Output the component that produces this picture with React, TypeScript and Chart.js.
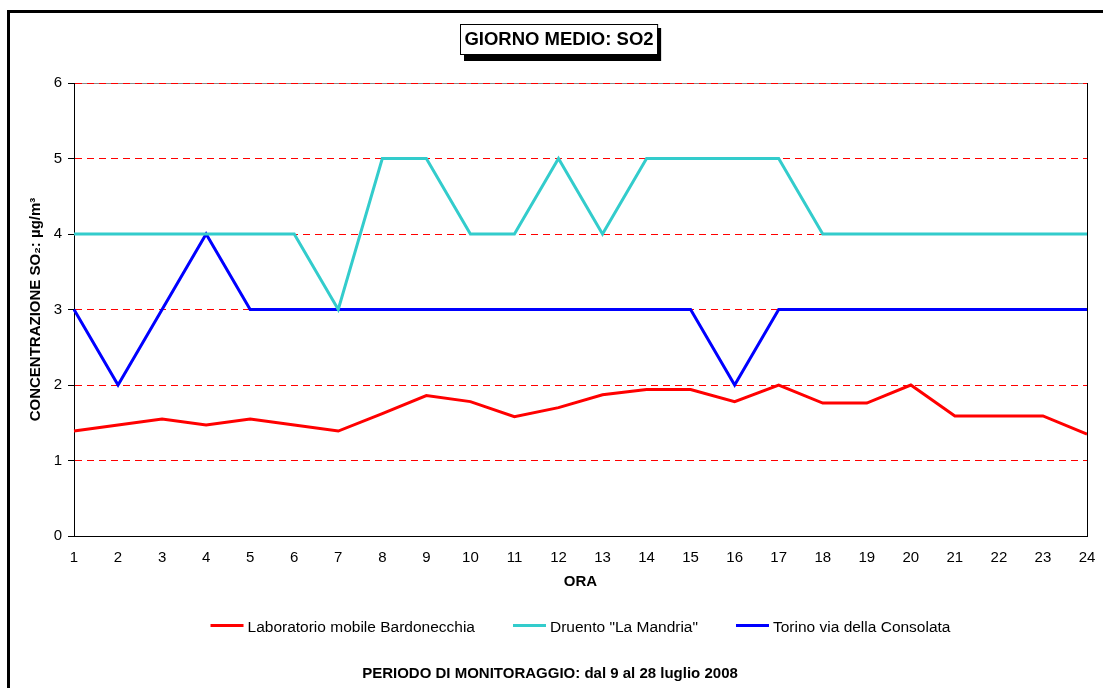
import React, { useEffect, useRef } from "react";
import { Chart, registerables } from "chart.js";

Chart.register(...registerables);

const FONT = '"Liberation Sans", Arial, Helvetica, sans-serif';

const hours = ["1", "2", "3", "4", "5", "6", "7", "8", "9", "10", "11", "12", "13", "14", "15", "16", "17", "18", "19", "20", "21", "22", "23", "24"];
const bardonecchia = [1.39, 1.47, 1.55, 1.47, 1.55, 1.47, 1.39, 1.62, 1.86, 1.78, 1.58, 1.7, 1.87, 1.94, 1.94, 1.78, 2.0, 1.76, 1.76, 2.0, 1.59, 1.59, 1.59, 1.35];
const druento = [4, 4, 4, 4, 4, 4, 3, 5, 5, 4, 4, 5, 4, 5, 5, 5, 5, 4, 4, 4, 4, 4, 4, 4];
const torino = [3, 2, 3, 4, 3, 3, 3, 3, 3, 3, 3, 3, 3, 3, 3, 2, 3, 3, 3, 3, 3, 3, 3, 3];
const seriesNames = ["Laboratorio mobile Bardonecchia", 'Druento "La Mandria"', "Torino via della Consolata"];
const seriesColors = ["#FF0000", "#33CCCC", "#0000FF"];
const yMin = 0;
const yMax = 6;
const yStep = 1;
const chartTitle = "GIORNO MEDIO: SO2";
const xTitle = "ORA";
const yTitle = "CONCENTRAZIONE SO\u2082: \u00B5g/m\u00B3";
const footer = "PERIODO DI MONITORAGGIO: dal 9 al 28 luglio 2008";

const decorPlugin = {
  id: "decor",
  beforeDraw(chart: any) {
    const { ctx, chartArea } = chart;
    ctx.save();
    ctx.fillStyle = "#fff";
    ctx.fillRect(0, 0, chart.width, chart.height);
    // outer frame
    ctx.strokeStyle = "#000";
    ctx.lineWidth = 3;
    ctx.strokeRect(8.5, 11.5, 3000, 3000);
    // gray top border of plot area
    ctx.strokeStyle = "#8a8a8a";
    ctx.lineWidth = 1;
    ctx.beginPath();
    ctx.moveTo(chartArea.left, Math.round(chartArea.top) + 0.5);
    ctx.lineTo(chartArea.right, Math.round(chartArea.top) + 0.5);
    ctx.stroke();
    ctx.restore();
  },
  afterDraw(chart: any) {
    const { ctx, chartArea } = chart;
    ctx.save();
    // right border of plot area
    ctx.strokeStyle = "#000";
    ctx.lineWidth = 1;
    ctx.beginPath();
    ctx.moveTo(Math.round(chartArea.right) + 0.5, chartArea.top);
    ctx.lineTo(Math.round(chartArea.right) + 0.5, chartArea.bottom);
    ctx.stroke();

    // title box with shadow
    ctx.font = `bold 18.5px ${FONT}`;
    const tw = ctx.measureText(chartTitle).width;
    const cx = 559;
    const cy = 39;
    const bw = tw + 8;
    const bh = 30;
    const bx = Math.round(cx - bw / 2);
    const by = Math.round(cy - bh / 2);
    ctx.fillStyle = "#000";
    ctx.fillRect(bx + 4, by + 4, bw, bh + 3);
    ctx.fillStyle = "#fff";
    ctx.fillRect(bx, by, bw, bh);
    ctx.strokeStyle = "#000";
    ctx.strokeRect(bx + 0.5, by + 0.5, bw, bh);
    ctx.fillStyle = "#000";
    ctx.textAlign = "center";
    ctx.textBaseline = "middle";
    ctx.fillText(chartTitle, cx, cy + 1);

    // legend
    ctx.font = `15.5px ${FONT}`;
    const lineLen = 33;
    const gapText = 4;
    const gapItem = 38;
    const ds = chart.data.datasets;
    const widths = ds.map((d: any) => lineLen + gapText + ctx.measureText(d.label).width);
    const total = widths.reduce((a: number, b: number) => a + b, 0) + gapItem * (ds.length - 1);
    let x = (chartArea.left + chartArea.right) / 2 - total / 2;
    const ly = 628;
    ctx.textAlign = "left";
    ds.forEach((d: any, i: number) => {
      ctx.fillStyle = d.borderColor;
      ctx.fillRect(x, ly - 4, lineLen, 3);
      ctx.fillStyle = "#000";
      ctx.fillText(d.label, x + lineLen + gapText, ly);
      x += widths[i] + gapItem;
    });

    // footer
    ctx.font = `bold 15px ${FONT}`;
    ctx.textAlign = "center";
    ctx.fillText(footer, 550, 674);
    ctx.restore();
  },
};

export default function App() {
  const ref = useRef<HTMLCanvasElement>(null);
  useEffect(() => {
    if (!ref.current) return;
    const values = [bardonecchia, druento, torino];
    const chart = new Chart(ref.current, {
      type: "line",
      data: {
        labels: hours,
        datasets: values.map((v, i) => ({
          label: seriesNames[i],
          data: v,
          borderColor: seriesColors[i],
          backgroundColor: seriesColors[i],
          borderWidth: 3,
          pointRadius: 0,
          tension: 0,
          fill: false,
        })),
      },
      options: {
        animation: false,
        responsive: false,
        devicePixelRatio: 1,
        layout: { padding: { left: 0, right: 16, top: 83, bottom: 92 } },
        plugins: {
          legend: { display: false },
          title: { display: false },
          tooltip: { enabled: false },
        },
        scales: {
          x: {
            type: "category",
            offset: false,
            grid: { display: false, drawTicks: false },
            border: { display: true, color: "#000", width: 1 },
            ticks: { color: "#000", font: { family: FONT, size: 15 }, padding: 13, maxRotation: 0, autoSkip: false },
            title: { display: true, text: xTitle, color: "#000", font: { family: FONT, size: 15, weight: "bold" }, padding: { top: 4, bottom: 5 } },
            afterFit: (s: any) => {
              s.height = 60;
              s.paddingLeft = 0;
              s.paddingRight = 0;
            },
          },
          y: {
            min: yMin,
            max: yMax,
            ticks: { stepSize: yStep, color: "#000", font: { family: FONT, size: 15 }, padding: 6 },
            grid: {
              color: "#FF0000",
              lineWidth: 1,
              drawTicks: true,
              tickLength: 6,
              tickColor: "#000",
            },
            border: { display: true, color: "#000", width: 1, dash: [7, 5] },
            title: { display: true, text: yTitle, color: "#000", font: { family: FONT, size: 15, weight: "bold" }, padding: { top: 27, bottom: 0 } },
            afterFit: (s: any) => {
              s.width = 74;
            },
          },
        },
      } as any,
      plugins: [decorPlugin],
    });
    return () => chart.destroy();
  }, []);
  return (
    <div style={{ position: "absolute", left: 0, top: 0, width: 1103, height: 688, background: "#fff" }}>
      <canvas ref={ref} width={1103} height={688} style={{ display: "block" }} />
    </div>
  );
}
